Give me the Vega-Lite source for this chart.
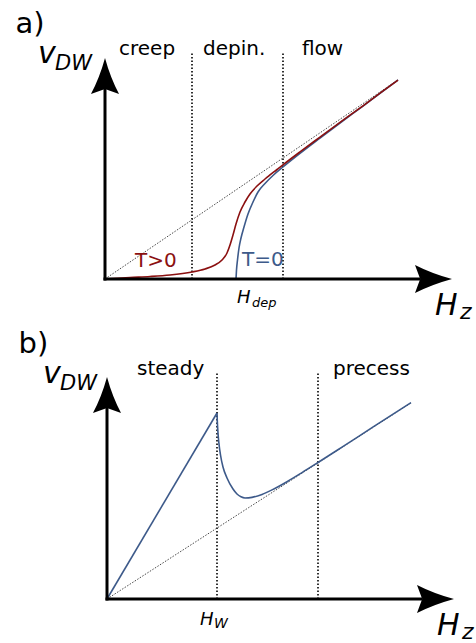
{
  "$schema": "https://vega.github.io/schema/vega-lite/v6.json",
  "padding": 0,
  "spacing": 0,
  "bounds": "flush",
  "background": "white",
  "config": {"view": {"stroke": null}, "text": {"font": "DejaVu Sans"}},
  "vconcat": [
    {
      "width": 476,
      "height": 328,
      "encoding": {
        "x": {"field": "H", "type": "quantitative", "scale": {"domain": [-1.05, 3.71], "nice": false, "zero": false}, "axis": null},
        "y": {"field": "v", "type": "quantitative", "scale": {"domain": [-0.49, 2.79], "nice": false, "zero": false}, "axis": null}
      },
      "layer": [
        {
          "data": {"values": [{"H": 0.87, "v": 0, "v2": 2.26}, {"H": 1.78, "v": 0, "v2": 2.26}]},
          "mark": {"type": "rule", "color": "black", "strokeWidth": 1.6, "strokeDash": [1.5, 2]},
          "encoding": {"y2": {"field": "v2"}}
        },
        {
          "data": {"values": [{"H": 0, "v": 0}, {"H": 2.93, "v": 1.992}]},
          "mark": {"type": "line", "color": "#333333", "strokeWidth": 0.9, "strokeDash": [1.5, 1.5]},
          "encoding": {}
        },
        {
          "data": {"values": [
            {"H": 1.31, "v": 0}, {"H": 1.315, "v": 0.09}, {"H": 1.325, "v": 0.19}, {"H": 1.34, "v": 0.31},
            {"H": 1.36, "v": 0.41}, {"H": 1.39, "v": 0.52}, {"H": 1.43, "v": 0.65}, {"H": 1.48, "v": 0.77},
            {"H": 1.53, "v": 0.87}, {"H": 1.6, "v": 0.955}, {"H": 1.68, "v": 1.035}, {"H": 1.78, "v": 1.12},
            {"H": 1.95, "v": 1.256}, {"H": 2.15, "v": 1.409}, {"H": 2.35, "v": 1.56}, {"H": 2.58, "v": 1.729},
            {"H": 2.75, "v": 1.856}, {"H": 2.93, "v": 1.99}
          ]},
          "mark": {"type": "line", "color": "#3d5a8a", "strokeWidth": 1.6, "interpolate": "monotone"},
          "encoding": {}
        },
        {
          "data": {"values": [
            {"H": 0, "v": 0}, {"H": 0.25, "v": 0.015}, {"H": 0.45, "v": 0.025}, {"H": 0.65, "v": 0.04},
            {"H": 0.87, "v": 0.07}, {"H": 1.0, "v": 0.1}, {"H": 1.1, "v": 0.14}, {"H": 1.17, "v": 0.19},
            {"H": 1.22, "v": 0.26}, {"H": 1.25, "v": 0.34}, {"H": 1.28, "v": 0.44}, {"H": 1.31, "v": 0.55},
            {"H": 1.35, "v": 0.67}, {"H": 1.4, "v": 0.77}, {"H": 1.45, "v": 0.85}, {"H": 1.52, "v": 0.93},
            {"H": 1.6, "v": 1.0}, {"H": 1.72, "v": 1.095}, {"H": 1.78, "v": 1.142}, {"H": 1.95, "v": 1.271},
            {"H": 2.15, "v": 1.419}, {"H": 2.35, "v": 1.566}, {"H": 2.58, "v": 1.732}, {"H": 2.75, "v": 1.858},
            {"H": 2.93, "v": 1.988}
          ]},
          "mark": {"type": "line", "color": "#8b1010", "strokeWidth": 1.6, "interpolate": "monotone"},
          "encoding": {}
        },
        {
          "data": {"values": [{"H": -0.015, "H2": 3.15, "v": 0, "v2": 0}, {"H": 0, "H2": 0, "v": -0.015, "v2": 1.95}]},
          "mark": {"type": "rule", "color": "black", "strokeWidth": 3},
          "encoding": {"x2": {"field": "H2"}, "y2": {"field": "v2"}}
        },
        {
          "data": {"values": [{"H": 0, "v": 2.03}]},
          "mark": {"type": "point", "shape": "M0,-1Q0.3,0.1,0.78,1L0,0.72L-0.78,1Q-0.3,0.1,0,-1Z", "filled": true, "size": 1296, "color": "black", "opacity": 1, "strokeWidth": 0}
        },
        {
          "data": {"values": [{"H": 3.285, "v": 0}]},
          "mark": {"type": "point", "shape": "M1,0Q-0.1,0.3,-1,0.76L-0.72,0L-1,-0.76Q-0.1,-0.3,1,0Z", "filled": true, "size": 1369, "color": "black", "opacity": 1, "strokeWidth": 0}
        },
        {
          "data": {"values": [{"H": -0.895, "v": 2.46, "label": "a)"}]},
          "mark": {"type": "text", "align": "left", "baseline": "alphabetic", "fontSize": 29, "color": "black"},
          "encoding": {"text": {"field": "label"}}
        },
        {
          "data": {"values": [{"H": 0.14, "v": 2.24, "label": "creep"}, {"H": 0.98, "v": 2.24, "label": "depin."}, {"H": 1.97, "v": 2.24, "label": "flow"}]},
          "mark": {"type": "text", "align": "left", "baseline": "alphabetic", "fontSize": 20, "color": "black"},
          "encoding": {"text": {"field": "label"}}
        },
        {
          "data": {"values": [{"H": -0.67, "v": 2.16, "label": "v"}]},
          "mark": {"type": "text", "align": "left", "baseline": "alphabetic", "fontSize": 30, "fontStyle": "italic", "color": "black"},
          "encoding": {"text": {"field": "label"}}
        },
        {
          "data": {"values": [{"H": -0.5, "v": 2.09, "label": "DW"}]},
          "mark": {"type": "text", "align": "left", "baseline": "alphabetic", "fontSize": 21, "fontStyle": "italic", "color": "black"},
          "encoding": {"text": {"field": "label"}}
        },
        {
          "data": {"values": [{"H": 0.3, "v": 0.12, "label": "T>0"}]},
          "mark": {"type": "text", "align": "left", "baseline": "alphabetic", "fontSize": 20, "color": "#8b1010"},
          "encoding": {"text": {"field": "label"}}
        },
        {
          "data": {"values": [{"H": 1.37, "v": 0.13, "label": "T=0"}]},
          "mark": {"type": "text", "align": "left", "baseline": "alphabetic", "fontSize": 20, "color": "#3d5a8a"},
          "encoding": {"text": {"field": "label"}}
        },
        {
          "data": {"values": [{"H": 1.32, "v": -0.24, "label": "H"}]},
          "mark": {"type": "text", "align": "left", "baseline": "alphabetic", "fontSize": 18, "fontStyle": "italic", "color": "black"},
          "encoding": {"text": {"field": "label"}}
        },
        {
          "data": {"values": [{"H": 1.47, "v": -0.28, "label": "dep"}]},
          "mark": {"type": "text", "align": "left", "baseline": "alphabetic", "fontSize": 13, "fontStyle": "italic", "color": "black"},
          "encoding": {"text": {"field": "label"}}
        },
        {
          "data": {"values": [{"H": 3.3, "v": -0.36, "label": "H"}]},
          "mark": {"type": "text", "align": "left", "baseline": "alphabetic", "fontSize": 30, "fontStyle": "italic", "color": "black"},
          "encoding": {"text": {"field": "label"}}
        },
        {
          "data": {"values": [{"H": 3.55, "v": -0.4, "label": "z"}]},
          "mark": {"type": "text", "align": "left", "baseline": "alphabetic", "fontSize": 22, "fontStyle": "italic", "color": "black"},
          "encoding": {"text": {"field": "label"}}
        }
      ]
    },
    {
      "width": 476,
      "height": 315,
      "encoding": {
        "x": {"field": "H", "type": "quantitative", "scale": {"domain": [-1.07, 3.69], "nice": false, "zero": false}, "axis": null},
        "y": {"field": "v", "type": "quantitative", "scale": {"domain": [-0.44, 2.71], "nice": false, "zero": false}, "axis": null}
      },
      "layer": [
        {
          "data": {"values": [{"H": 1.1, "v": 0, "v2": 2.26}, {"H": 2.11, "v": 0, "v2": 2.26}]},
          "mark": {"type": "rule", "color": "black", "strokeWidth": 1.6, "strokeDash": [1.5, 2]},
          "encoding": {"y2": {"field": "v2"}}
        },
        {
          "data": {"values": [{"H": 0, "v": 0}, {"H": 3.04, "v": 1.961}]},
          "mark": {"type": "line", "color": "#333333", "strokeWidth": 0.9, "strokeDash": [1.5, 1.5]},
          "encoding": {}
        },
        {
          "data": {"values": [{"H": 0, "v": 0}, {"H": 1.1, "v": 1.86}]},
          "mark": {"type": "line", "color": "#3d5a8a", "strokeWidth": 1.6},
          "encoding": {}
        },
        {
          "data": {"values": [
            {"H": 1.1, "v": 1.86}, {"H": 1.103, "v": 1.78}, {"H": 1.11, "v": 1.66}, {"H": 1.12, "v": 1.55},
            {"H": 1.135, "v": 1.44}, {"H": 1.16, "v": 1.32}, {"H": 1.2, "v": 1.21}, {"H": 1.26, "v": 1.1},
            {"H": 1.3, "v": 1.05}, {"H": 1.34, "v": 1.022}, {"H": 1.38, "v": 1.01}, {"H": 1.45, "v": 1.016},
            {"H": 1.55, "v": 1.046}, {"H": 1.65, "v": 1.091}, {"H": 1.8, "v": 1.173}, {"H": 1.95, "v": 1.264},
            {"H": 2.11, "v": 1.365}, {"H": 2.35, "v": 1.519}, {"H": 2.65, "v": 1.713}, {"H": 3.04, "v": 1.964}
          ]},
          "mark": {"type": "line", "color": "#3d5a8a", "strokeWidth": 1.6, "interpolate": "monotone"},
          "encoding": {}
        },
        {
          "data": {"values": [{"H": -0.015, "H2": 3.15, "v": 0, "v2": 0}, {"H": 0, "H2": 0, "v": -0.015, "v2": 1.95}]},
          "mark": {"type": "rule", "color": "black", "strokeWidth": 3},
          "encoding": {"x2": {"field": "H2"}, "y2": {"field": "v2"}}
        },
        {
          "data": {"values": [{"H": 0, "v": 2.04}]},
          "mark": {"type": "point", "shape": "M0,-1Q0.3,0.1,0.78,1L0,0.72L-0.78,1Q-0.3,0.1,0,-1Z", "filled": true, "size": 1296, "color": "black", "opacity": 1, "strokeWidth": 0}
        },
        {
          "data": {"values": [{"H": 3.285, "v": 0}]},
          "mark": {"type": "point", "shape": "M1,0Q-0.1,0.3,-1,0.76L-0.72,0L-1,-0.76Q-0.1,-0.3,1,0Z", "filled": true, "size": 1369, "color": "black", "opacity": 1, "strokeWidth": 0}
        },
        {
          "data": {"values": [{"H": -0.885, "v": 2.46, "label": "b)"}]},
          "mark": {"type": "text", "align": "left", "baseline": "alphabetic", "fontSize": 29, "color": "black"},
          "encoding": {"text": {"field": "label"}}
        },
        {
          "data": {"values": [{"H": 0.3, "v": 2.24, "label": "steady"}, {"H": 2.26, "v": 2.24, "label": "precess"}]},
          "mark": {"type": "text", "align": "left", "baseline": "alphabetic", "fontSize": 20, "color": "black"},
          "encoding": {"text": {"field": "label"}}
        },
        {
          "data": {"values": [{"H": -0.64, "v": 2.16, "label": "v"}]},
          "mark": {"type": "text", "align": "left", "baseline": "alphabetic", "fontSize": 30, "fontStyle": "italic", "color": "black"},
          "encoding": {"text": {"field": "label"}}
        },
        {
          "data": {"values": [{"H": -0.47, "v": 2.09, "label": "DW"}]},
          "mark": {"type": "text", "align": "left", "baseline": "alphabetic", "fontSize": 21, "fontStyle": "italic", "color": "black"},
          "encoding": {"text": {"field": "label"}}
        },
        {
          "data": {"values": [{"H": 0.93, "v": -0.26, "label": "H"}]},
          "mark": {"type": "text", "align": "left", "baseline": "alphabetic", "fontSize": 18, "fontStyle": "italic", "color": "black"},
          "encoding": {"text": {"field": "label"}}
        },
        {
          "data": {"values": [{"H": 1.07, "v": -0.29, "label": "W"}]},
          "mark": {"type": "text", "align": "left", "baseline": "alphabetic", "fontSize": 14, "fontStyle": "italic", "color": "black"},
          "encoding": {"text": {"field": "label"}}
        },
        {
          "data": {"values": [{"H": 3.3, "v": -0.36, "label": "H"}]},
          "mark": {"type": "text", "align": "left", "baseline": "alphabetic", "fontSize": 30, "fontStyle": "italic", "color": "black"},
          "encoding": {"text": {"field": "label"}}
        },
        {
          "data": {"values": [{"H": 3.55, "v": -0.4, "label": "z"}]},
          "mark": {"type": "text", "align": "left", "baseline": "alphabetic", "fontSize": 22, "fontStyle": "italic", "color": "black"},
          "encoding": {"text": {"field": "label"}}
        }
      ]
    }
  ]
}
